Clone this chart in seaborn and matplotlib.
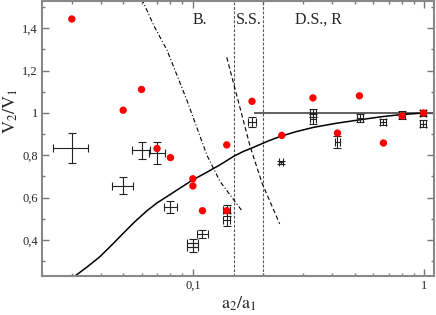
import matplotlib
matplotlib.use("Agg")
from matplotlib import pyplot as plt
from matplotlib.ticker import FixedLocator, FuncFormatter, LogLocator, NullFormatter
import pandas as pd
import seaborn as sns

# red points (no error bars)
red_x = [0.030, 0.050, 0.060, 0.070, 0.080, 0.100, 0.100, 0.110, 0.140, 0.140,
         0.180, 0.242, 0.330, 0.421, 0.524, 0.665, 0.800, 0.990]
red_y = [1.444, 1.013, 1.111, 0.832, 0.789, 0.689, 0.655, 0.538, 0.849, 0.538,
         1.055, 0.894, 1.071, 0.905, 1.081, 0.858, 0.986, 1.000]

# black points with error bars
err_x = [0.030, 0.050, 0.060, 0.070, 0.080, 0.100, 0.100, 0.110, 0.140, 0.140,
         0.180, 0.240, 0.330, 0.330, 0.421, 0.529, 0.665, 0.800, 0.990, 0.990]
err_y = [0.834, 0.657, 0.824, 0.811, 0.555, 0.385, 0.365, 0.428, 0.540, 0.495,
         0.957, 0.766, 1.000, 0.970, 0.863, 0.976, 0.957, 0.990, 1.000, 0.950]
err_dx = [0.0052, 0.0052, 0.0053, 0.0055, 0.0053, 0.0055, 0.0055, 0.006, 0.005, 0.005,
          0.007, 0.004, 0.010, 0.010, 0.012, 0.016, 0.020, 0.024, 0.030, 0.030]
err_dy = [0.070, 0.040, 0.040, 0.053, 0.030, 0.020, 0.020, 0.020, 0.025, 0.030,
          0.023, 0.008, 0.021, 0.024, 0.030, 0.020, 0.015, 0.020, 0.016, 0.016]

# solid model curve
curve_x = [0.030, 0.0311, 0.035, 0.0397, 0.045, 0.0501, 0.056, 0.0632, 0.070, 0.0773,
           0.088, 0.100, 0.115, 0.131, 0.150, 0.165, 0.183, 0.210, 0.238, 0.280,
           0.332, 0.420, 0.529, 0.650, 0.788, 1.000]
curve_y = [0.220, 0.231, 0.273, 0.321, 0.380, 0.432, 0.485, 0.537, 0.575, 0.605,
           0.645, 0.684, 0.720, 0.755, 0.795, 0.818, 0.838, 0.866, 0.889, 0.912,
           0.932, 0.952, 0.968, 0.982, 0.992, 1.000]

# dash-dot boundary
dd_x = [0.0595, 0.068, 0.0773, 0.0942, 0.115, 0.131, 0.163]
dd_y = [1.550, 1.410, 1.297, 1.060, 0.800, 0.676, 0.537]

# dashed boundary
da_x = [0.140, 0.177, 0.199, 0.237]
da_y = [1.263, 0.839, 0.668, 0.476]

regions = ["B.", "S.S.", "D.S., R"]
region_x = [0.1075, 0.174, 0.3475]
region_bounds = [0.15, 0.2]

sns.set_style("ticks")
plt.rcParams["font.family"] = ["Liberation Serif", "DejaVu Serif"]
plt.rcParams["mathtext.fontset"] = "stix"

f, ax = plt.subplots(figsize=(4.36, 3.15), dpi=100)
f.subplots_adjust(left=0.0963, right=0.9955, bottom=0.1248, top=0.9968)

ax.set_xscale("log")
ax.set_xlim(0.0223, 1.1)
ax.set_ylim(0.231, 1.529)

for xb in region_bounds:
    ax.axvline(xb, color="#555555", lw=0.8, ls=(0, (2.5, 1.5)), zorder=1)
ax.hlines(1.0, 0.184, 1.1, color="#444444", lw=1.2, zorder=1)

sns.lineplot(x=curve_x, y=curve_y, sort=False, estimator=None, color="black", lw=1.1, ax=ax)
sns.lineplot(x=dd_x, y=dd_y, sort=False, estimator=None, color="black", lw=0.8,
             ax=ax, linestyle=(0, (4, 2, 1, 2)))
sns.lineplot(x=da_x, y=da_y, sort=False, estimator=None, color="black", lw=0.8,
             ax=ax, linestyle=(0, (4, 2.5)))

ax.errorbar(err_x, err_y, xerr=err_dx, yerr=err_dy, fmt="none", ecolor="#222222",
            elinewidth=0.8, capsize=2.6, capthick=0.8, zorder=3)

red = pd.DataFrame({"x": red_x, "y": red_y})
sns.scatterplot(data=red, x="x", y="y", color="#ff0000", s=28, edgecolor="none",
                ax=ax, zorder=4)

for lab, xt in zip(regions, region_x):
    ax.text(xt, 1.44, lab, ha="center", va="center", fontsize=11.5)

comma = FuncFormatter(lambda v, p: ("%g" % v).replace(".", ","))
ax.xaxis.set_major_locator(FixedLocator([0.1, 1.0]))
ax.xaxis.set_minor_locator(LogLocator(base=10, subs=range(2, 10)))
ax.xaxis.set_major_formatter(comma)
ax.xaxis.set_minor_formatter(NullFormatter())
ax.yaxis.set_major_locator(FixedLocator([0.4, 0.6, 0.8, 1.0, 1.2, 1.4]))
ax.yaxis.set_minor_locator(FixedLocator([0.3, 0.5, 0.7, 0.9, 1.1, 1.3, 1.5]))
ax.yaxis.set_major_formatter(comma)

ax.tick_params(which="both", direction="in", top=True, right=True, color="#777777",
               labelsize=9, pad=3)
ax.tick_params(which="major", length=5, width=1)
ax.tick_params(which="minor", length=2.5, width=1)
for s in ax.spines.values():
    s.set_color("#888888")
    s.set_linewidth(1.5)

ax.set_xlabel(r"$\mathrm{a_2/a_1}$", fontsize=13)
ax.set_ylabel(r"$\mathrm{V_2/V_1}$", fontsize=13)
ax.xaxis.set_label_coords(0.502, -0.07)
ax.yaxis.set_label_coords(-0.056, 0.6)

f.savefig("out.png", dpi=100)
